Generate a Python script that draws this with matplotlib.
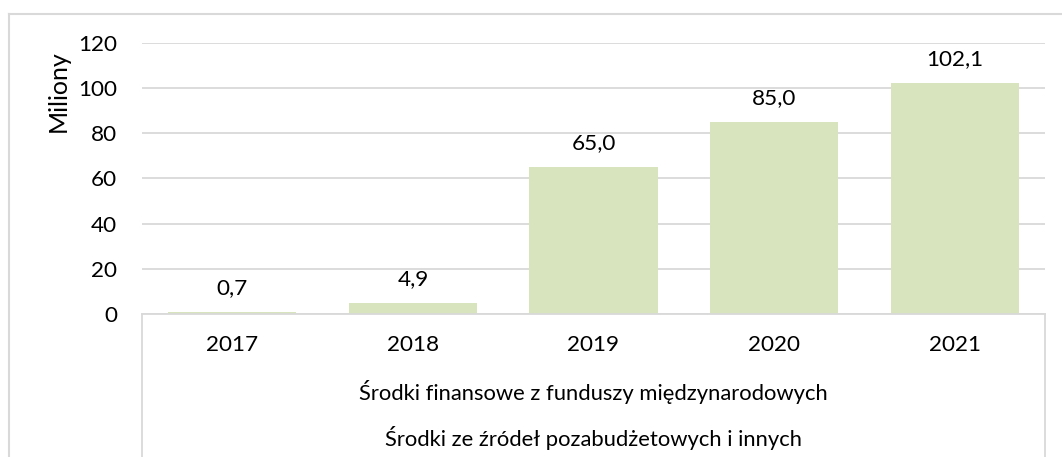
import matplotlib
matplotlib.use("Agg")
import matplotlib.pyplot as plt
from matplotlib.lines import Line2D

years = ["2017", "2018", "2019", "2020", "2021"]
values = [0.7, 4.9, 65.0, 85.0, 102.1]
labels = ["0,7", "4,9", "65,0", "85,0", "102,1"]
group_labels = ["Środki finansowe z funduszy międzynarodowych",
                "Środki ze źródeł pozabudżetowych i innych"]
y_ticks = [0, 20, 40, 60, 80, 100, 120]

plt.rcParams['font.family'] = ['Lato', 'DejaVu Sans']
FS = 15.8
FS_NUM = 16.2
W, H = 1062, 457
fig = plt.figure(figsize=(W / 100, H / 100), dpi=100)
ax = fig.add_axes([142 / W, (H - 314) / H, (1045 - 142) / W, (314 - 43) / H])

x = list(range(len(years)))
ax.bar(x, values, width=0.71, color="#d7e4bd", zorder=2)
ax.set_xlim(-0.5, len(years) - 0.5)
ax.set_ylim(0, 120)
ax.set_yticks(y_ticks)
ax.set_yticklabels([str(t) for t in y_ticks], fontsize=FS_NUM)
ax.tick_params(axis='y', length=0, pad=18)
ax.set_xticks([])
ax.yaxis.grid(True, color="#d9d9d9", linewidth=1.3, zorder=0)
for s in ["top", "right", "left"]:
    ax.spines[s].set_visible(False)
ax.spines["bottom"].set_color("#d9d9d9")
ax.spines["bottom"].set_linewidth(1.3)
ax.set_ylabel("Miliony", fontsize=18)
ax.yaxis.set_label_coords(58 / W, 1 - 91 / H, transform=fig.transFigure)
ax.yaxis.label.set_va("center")

for xi, v, lab in zip(x, values, labels):
    ax.annotate(lab, (xi, v), xytext=(0, 10), textcoords="offset points",
                ha="center", va="bottom", fontsize=FS_NUM)

# multi-level category axis
for xi, y in zip(x, years):
    fig.text((142 + (xi + 0.5) * (1045 - 142) / len(years)) / W, 1 - 345 / H, y,
             ha="center", va="center", fontsize=FS_NUM)
for i, g in enumerate(group_labels):
    fig.text((142 + 1045) / 2 / W, 1 - (392 + 46 * i) / H, g,
             ha="center", va="center", fontsize=FS)
for xp in (142, 1045):
    fig.add_artist(Line2D([xp / W, xp / W], [1 - 314 / H, 0], color="#d9d9d9", lw=1.3))

# outer chart border
fig.add_artist(Line2D([9 / W, 9 / W], [1 - 14 / H, 0], color="#d9d9d9", lw=1.5))
fig.add_artist(Line2D([9 / W, 1], [1 - 14 / H, 1 - 14 / H], color="#d9d9d9", lw=1.5))

fig.savefig("out.png", dpi=100)
